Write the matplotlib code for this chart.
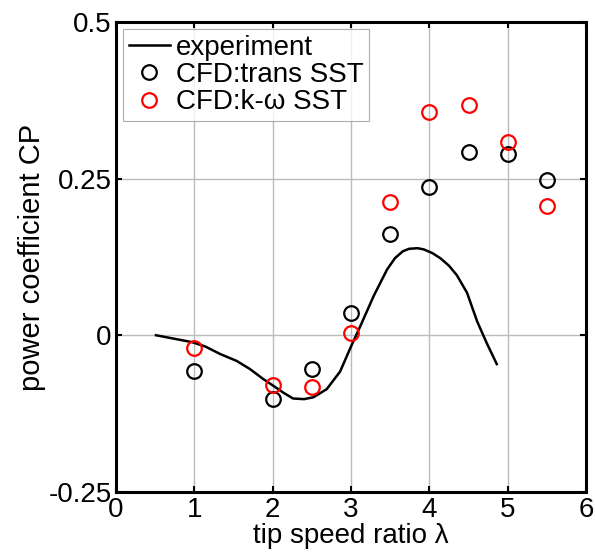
import matplotlib
matplotlib.use("Agg")
import matplotlib.pyplot as plt

plt.rcParams["font.family"] = ["Liberation Sans", "DejaVu Sans"]
plt.rcParams["axes.unicode_minus"] = False

# experiment curve
exp_tsr = [0.51, 0.97, 1.14, 1.33, 1.54, 1.71, 1.88, 2.0, 2.14, 2.26, 2.4, 2.52, 2.69,
           2.86, 3.01, 3.12, 3.29, 3.46, 3.56, 3.66, 3.74, 3.85, 3.93, 4.04, 4.14,
           4.25, 4.35, 4.48, 4.61, 4.73, 4.86]
exp_cp = [0.0, -0.011, -0.018, -0.030, -0.041, -0.054, -0.070, -0.080, -0.092,
          -0.101, -0.102, -0.099, -0.086, -0.058, -0.015, 0.015, 0.063, 0.105,
          0.123, 0.134, 0.138, 0.139, 0.137, 0.131, 0.123, 0.111, 0.096, 0.068,
          0.022, -0.012, -0.046]

cfd_tsr = [1, 2, 2.5, 3, 3.5, 4, 4.5, 5, 5.5]
cp_trans = [-0.057, -0.101, -0.054, 0.036, 0.161, 0.237, 0.293, 0.289, 0.248]
cp_kw = [-0.021, -0.080, -0.082, 0.003, 0.213, 0.356, 0.367, 0.309, 0.206]

xticks = [0, 1, 2, 3, 4, 5, 6]
yticks = [-0.25, 0, 0.25, 0.5]
yticklabels = ["-0.25", "0", "0.25", "0.5"]

fig = plt.figure(figsize=(5.95, 5.52), dpi=100)
ax = fig.add_axes([0.195, 0.109, 0.79, 0.851])

ax.plot(exp_tsr, exp_cp, color="black", lw=1.8, label="experiment")
ax.plot(cfd_tsr, cp_trans, "o", mfc="none", mec="black", ms=10.5, mew=1.6,
        label="CFD:trans SST")
ax.plot(cfd_tsr, cp_kw, "o", mfc="none", mec="red", ms=10.5, mew=1.6,
        label="CFD:k-ω SST")

ax.set_xlim(0, 6)
ax.set_ylim(-0.25, 0.5)
ax.set_xticks(xticks)
ax.set_yticks(yticks)
ax.set_yticklabels(yticklabels)
ax.grid(True, color="#bbbbbb", lw=1.0)
ax.set_axisbelow(True)
ax.tick_params(direction="in", length=4, width=1.5, top=True, right=True,
               labelsize=20)
ax.tick_params(axis="x", pad=3.5)
ax.tick_params(axis="y", pad=3)
for s in ax.spines.values():
    s.set_linewidth(2.2)

ax.set_xlabel("tip speed ratio λ", fontsize=20, labelpad=0)
ax.set_ylabel("power coefficient CP", fontsize=21, labelpad=2)

leg = ax.legend(loc="upper left", fontsize=20, frameon=True, fancybox=False,
                handlelength=1.5, handletextpad=0.2, borderpad=0.2,
                labelspacing=0.05, borderaxespad=0.25)
leg.get_frame().set_edgecolor("#999999")
leg.get_frame().set_linewidth(0.8)

fig.savefig("out.png", dpi=100)
